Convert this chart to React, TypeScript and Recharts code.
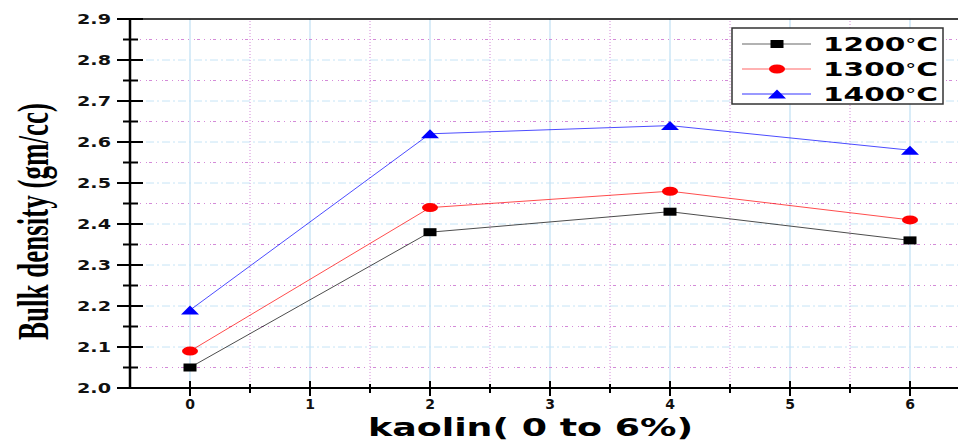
import { LineChart, Line, XAxis, YAxis, ReferenceLine, Label } from "recharts";

const kaolin = [0, 2, 4, 6];
const d1200 = [2.05, 2.38, 2.43, 2.36];
const d1300 = [2.09, 2.44, 2.48, 2.41];
const d1400 = [2.19, 2.62, 2.64, 2.58];
const seriesTemps = ["1200", "1300", "1400"];

const xTicks = [0, 0.5, 1, 1.5, 2, 2.5, 3, 3.5, 4, 4.5, 5, 5.5, 6];
const yTicks = [2.0, 2.05, 2.1, 2.15, 2.2, 2.25, 2.3, 2.35, 2.4, 2.45, 2.5, 2.55, 2.6, 2.65, 2.7, 2.75, 2.8, 2.85, 2.9];
const xMajorGrid = [0, 1, 2, 3, 4, 5, 6];
const xMinorGrid = [0.5, 1.5, 2.5, 3.5, 4.5, 5.5];
const yMajorGrid = [2.1, 2.2, 2.3, 2.4, 2.5, 2.6, 2.7, 2.8];
const yMinorGrid = [2.05, 2.15, 2.25, 2.35, 2.45, 2.55, 2.65, 2.75, 2.85];

const data = kaolin.map((k, i) => ({ k, a: d1200[i], b: d1300[i], c: d1400[i] }));

const tickFont = { fontFamily: "DejaVu Sans", fontWeight: "bold", fill: "#111" } as const;

function isMajor(v: number, step: number) {
  return Math.abs(v / step - Math.round(v / step)) < 1e-6;
}

function YTick(props: any) {
  const { x, y, payload } = props;
  const v = payload.value;
  const major = isMajor(v, 0.1);
  return (
    <g>
      <line x1={x - (major ? 13 : 7)} x2={x + (major ? 13 : 8)} y1={y} y2={y} stroke="#000" strokeWidth={2} />
      {major && (
        <text
          x={x - 53}
          y={y}
          dy={5}
          textLength={34}
          lengthAdjust="spacingAndGlyphs"
          fontSize={14}
          {...tickFont}
        >
          {v.toFixed(1)}
        </text>
      )}
    </g>
  );
}

function XTick(props: any) {
  const { x, y, payload } = props;
  const v = payload.value;
  const major = isMajor(v, 1);
  return (
    <g>
      <line x1={x} x2={x} y1={y - (major ? 7 : 4)} y2={y + (major ? 8 : 5)} stroke="#000" strokeWidth={2} />
      {major && (
        <text x={x} y={y} dy={21} textAnchor="middle" fontSize={14} {...tickFont}>
          {v}
        </text>
      )}
    </g>
  );
}

function Marker({ cx, cy, kind }: { cx?: number; cy?: number; kind: string }) {
  if (cx == null || cy == null) return null;
  if (kind === "square") return <rect x={cx - 6.5} y={cy - 4} width={13} height={8} fill="#000" />;
  if (kind === "circle") return <ellipse cx={cx} cy={cy} rx={8} ry={4.5} fill="#f00" />;
  return <polygon points={`${cx - 9},${cy + 4.5} ${cx + 9},${cy + 4.5} ${cx},${cy - 4.5}`} fill="#00f" />;
}

const series = [
  { key: "a", color: "#000", light: "#999", kind: "square" },
  { key: "b", color: "#f00", light: "#f99", kind: "circle" },
  { key: "c", color: "#00f", light: "#77f", kind: "triangle" },
];

function LegendBox() {
  return (
    <svg width={214} height={79} style={{ position: "absolute", left: 731, top: 27 }}>
      <rect x={1} y={1} width={211} height={76} fill="#fff" stroke="#333" strokeWidth={1.5} />
      {series.map((s, i) => {
        const cy = 17 + i * 25;
        return (
          <g key={s.key}>
            <line x1={11} x2={80} y1={cy} y2={cy} stroke={s.light} strokeWidth={1.5} />
            <Marker cx={46} cy={cy} kind={s.kind} />
            <text
              x={92}
              y={cy + 7}
              textLength={115}
              lengthAdjust="spacingAndGlyphs"
              fontFamily="DejaVu Sans"
              fontWeight="bold"
              fontSize={19}
              fill="#000"
            >
              {seriesTemps[i]}
              <tspan fontWeight="normal" fontSize={14} dy={-2}>°</tspan>
              <tspan dy={2}>C</tspan>
            </text>
          </g>
        );
      })}
    </svg>
  );
}

export default function App() {
  return (
    <div style={{ position: "absolute", left: 0, top: 0, width: 958, height: 442, background: "#fff", overflow: "hidden" }}>
      <LineChart width={958} height={442} data={data} margin={{ top: 19, right: 0, left: 0, bottom: 0 }}>
        {xMajorGrid.map((v) => (
          <ReferenceLine key={"xm" + v} x={v} stroke="#bfe0f4" strokeWidth={1.2} />
        ))}
        {xMinorGrid.map((v) => (
          <ReferenceLine key={"xn" + v} x={v} stroke="#d48ad8" strokeWidth={1} strokeDasharray="1 2" />
        ))}
        {yMajorGrid.map((v) => (
          <ReferenceLine key={"ym" + v} y={v} stroke="#c6e4f6" strokeWidth={1} strokeDasharray="8 3 2 3" />
        ))}
        {yMinorGrid.map((v) => (
          <ReferenceLine key={"yn" + v} y={v} stroke="#d48ad8" strokeWidth={1} strokeDasharray="1 2 3 4 1 5" />
        ))}
        <ReferenceLine y={2.9} stroke="#000" strokeWidth={1.5} />
        <XAxis
          dataKey="k"
          type="number"
          domain={[-0.5, 6.4]}
          allowDataOverflow
          ticks={xTicks}
          interval={0}
          height={54}
          tickSize={0}
          tickMargin={0}
          tickLine={false}
          tick={<XTick />}
          axisLine={{ stroke: "#000", strokeWidth: 2 }}
        >
          <Label
            content={(p: any) => (
              <text
                x={p.viewBox.x + 238}
                y={p.viewBox.y + 48}
                textLength={325}
                lengthAdjust="spacingAndGlyphs"
                fontFamily="DejaVu Sans"
                fontWeight="bold"
                fontSize={24}
                fill="#000"
              >
                kaolin( 0 to 6%)
              </text>
            )}
          />
        </XAxis>
        <YAxis
          type="number"
          domain={[2.0, 2.9]}
          allowDataOverflow
          ticks={yTicks}
          interval={0}
          width={130}
          tickSize={0}
          tickMargin={0}
          tickLine={false}
          tick={<YTick />}
          axisLine={{ stroke: "#000", strokeWidth: 2.5 }}
        >
          <Label
            content={(p: any) => (
              <text
                transform={`translate(${p.viewBox.x + 48},${p.viewBox.y + p.viewBox.height / 2 + 18}) rotate(-90)`}
                textAnchor="middle"
                textLength={237}
                lengthAdjust="spacingAndGlyphs"
                fontFamily="Liberation Serif"
                fontWeight="bold"
                fontSize={44}
                fill="#000"
              >
                Bulk density (gm/cc)
              </text>
            )}
          />
        </YAxis>
        {series.map((s) => (
          <Line
            key={s.key}
            dataKey={s.key}
            stroke={s.color}
            strokeOpacity={0.7}
            strokeWidth={1}
            isAnimationActive={false}
            dot={(p: any) => <Marker key={s.key + p.index} cx={p.cx} cy={p.cy} kind={s.kind} />}
            activeDot={false}
          />
        ))}
      </LineChart>
      <LegendBox />
    </div>
  );
}
